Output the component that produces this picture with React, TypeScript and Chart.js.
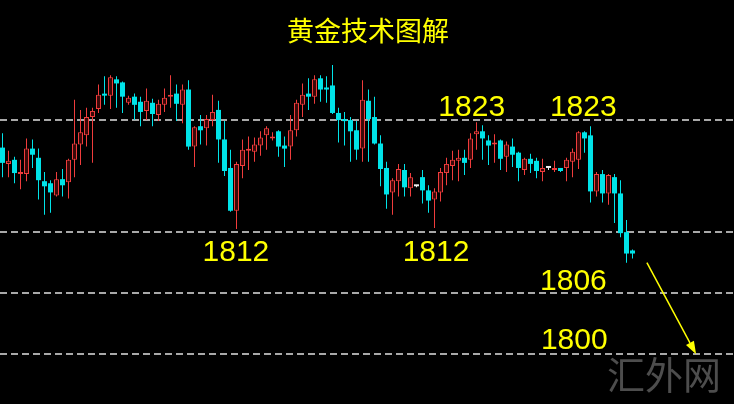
import React, { useEffect, useRef } from 'react';
import { Chart, registerables } from 'chart.js';

Chart.register(...registerables);

// ---------- data ----------
const titleText = '黄金技术图解';
const watermarkText = '汇外网';

const opens = [
  1820.3, 1818.7, 1819.1, 1817.7, 1817.7, 1820.2, 1819.3, 1817.0, 1816.8, 1815.6,
  1817.2, 1816.9, 1819.1, 1820.6, 1821.5, 1823.3, 1824.1, 1825.5, 1825.4, 1827.0,
  1826.7, 1824.7, 1825.3, 1824.8, 1823.9, 1824.7, 1823.5, 1824.5, 1825.3, 1825.6,
  1824.5, 1826.0, 1820.4, 1822.4, 1822.2, 1823.0, 1824.0, 1821.1, 1818.3, 1814.1,
  1818.5, 1820.0, 1819.9, 1820.5, 1821.5, 1821.2, 1821.9, 1820.5, 1820.4, 1822.0,
  1824.5, 1825.6, 1825.3, 1827.1, 1826.2, 1826.4, 1823.7, 1823.1, 1823.0, 1822.0,
  1820.2, 1824.9, 1823.3, 1820.7, 1818.3, 1815.9, 1817.0, 1818.1, 1816.3, 1816.5,
  1817.4, 1816.1, 1815.2, 1815.9, 1817.8, 1818.5, 1819.0, 1819.3, 1819.1, 1821.6,
  1821.9, 1821.0, 1820.6, 1821.0, 1819.4, 1820.4, 1819.8, 1818.1, 1819.2, 1819.0,
  1817.9, 1818.3, 1818.1, 1818.3, 1818.3, 1818.9, 1819.1, 1821.8, 1821.5, 1816.0,
  1817.7, 1815.8, 1817.4, 1815.8, 1812.0, 1810.2,
];
const highs = [
  1821.7, 1820.0, 1819.4, 1819.1, 1821.2, 1821.1, 1820.2, 1817.9, 1817.1, 1817.9,
  1818.2, 1819.2, 1825.0, 1824.0, 1824.2, 1824.2, 1826.5, 1827.3, 1827.4, 1827.3,
  1826.8, 1825.4, 1825.6, 1825.3, 1826.1, 1825.1, 1825.0, 1826.1, 1827.4, 1826.5,
  1826.5, 1826.9, 1822.4, 1823.5, 1823.5, 1825.5, 1824.9, 1822.9, 1820.1, 1818.9,
  1821.1, 1821.4, 1821.3, 1821.9, 1822.4, 1821.8, 1822.0, 1821.4, 1823.5, 1825.0,
  1826.6, 1827.1, 1827.4, 1827.4, 1827.3, 1828.4, 1824.2, 1823.8, 1823.3, 1822.9,
  1826.9, 1826.0, 1825.3, 1821.5, 1818.9, 1817.3, 1818.7, 1818.7, 1817.8, 1816.6,
  1818.1, 1816.6, 1816.3, 1818.3, 1819.3, 1820.0, 1820.1, 1820.1, 1821.7, 1822.8,
  1822.5, 1821.5, 1821.6, 1821.1, 1820.9, 1821.2, 1819.9, 1819.3, 1819.7, 1819.3,
  1819.2, 1818.4, 1819.0, 1818.3, 1819.3, 1820.2, 1821.9, 1821.9, 1822.4, 1817.9,
  1818.1, 1817.7, 1817.7, 1817.1, 1813.2, 1810.3,
];
const lows = [
  1817.4, 1817.4, 1816.8, 1816.2, 1817.0, 1818.3, 1815.2, 1813.7, 1813.9, 1815.5,
  1815.5, 1815.3, 1817.4, 1818.6, 1820.4, 1818.8, 1823.7, 1824.5, 1824.1, 1824.2,
  1823.7, 1824.5, 1823.0, 1822.4, 1823.0, 1822.4, 1822.9, 1823.8, 1824.2, 1822.9,
  1822.7, 1820.1, 1818.4, 1820.6, 1820.5, 1822.4, 1818.8, 1817.5, 1814.0, 1812.3,
  1817.3, 1818.1, 1818.9, 1819.5, 1820.1, 1821.0, 1819.4, 1818.4, 1819.1, 1821.4,
  1823.3, 1824.0, 1824.6, 1824.8, 1824.7, 1823.6, 1820.8, 1820.5, 1818.9, 1819.1,
  1818.9, 1818.9, 1820.6, 1816.5, 1814.3, 1813.7, 1815.5, 1815.5, 1815.5, 1816.4,
  1814.8, 1813.9, 1812.4, 1815.0, 1816.6, 1817.1, 1817.0, 1817.6, 1818.3, 1820.1,
  1819.1, 1818.6, 1818.8, 1818.1, 1817.9, 1818.4, 1817.0, 1817.6, 1817.8, 1817.3,
  1817.0, 1818.1, 1817.9, 1817.9, 1817.0, 1817.4, 1818.2, 1819.8, 1814.9, 1815.5,
  1814.9, 1814.7, 1812.9, 1811.5, 1809.0, 1809.4,
];
const closes = [
  1818.8, 1819.0, 1817.8, 1817.9, 1820.2, 1819.6, 1817.1, 1816.5, 1815.9, 1817.2,
  1816.6, 1819.1, 1820.7, 1821.8, 1823.3, 1823.9, 1825.5, 1825.4, 1827.2, 1826.6,
  1825.3, 1825.2, 1824.5, 1823.8, 1824.9, 1823.6, 1824.6, 1825.2, 1825.5, 1824.6,
  1826.0, 1820.4, 1822.3, 1822.0, 1823.1, 1823.8, 1821.1, 1818.0, 1814.1, 1818.7,
  1820.1, 1820.1, 1820.6, 1821.3, 1822.2, 1821.4, 1820.4, 1820.2, 1822.0, 1824.7,
  1825.5, 1825.3, 1827.0, 1826.0, 1826.0, 1823.7, 1823.0, 1822.9, 1821.9, 1820.1,
  1825.0, 1823.1, 1820.7, 1818.2, 1815.7, 1817.1, 1818.2, 1816.4, 1817.4, 1816.5,
  1816.1, 1815.1, 1816.0, 1817.9, 1818.7, 1819.1, 1819.3, 1818.8, 1821.2, 1821.9,
  1821.2, 1820.5, 1820.8, 1819.2, 1820.6, 1819.6, 1818.3, 1819.2, 1818.7, 1818.0,
  1818.3, 1818.3, 1818.3, 1818.0, 1819.1, 1819.9, 1821.8, 1821.2, 1816.0, 1817.7,
  1815.8, 1817.6, 1815.8, 1811.9, 1809.9, 1809.9,
];

// support / resistance levels
const levelValues = [1823, 1812, 1806, 1800];
const levelTexts = ['1823', '1823', '1812', '1812', '1806', '1800'];
const levelTextValues = [1823, 1823, 1812, 1812, 1806, 1800];
const levelTextBars = [78.2, 96.8, 38.9, 72.25, 95.15, 95.3];

// arrow (from / to in data space: bar index, price)
const arrowBars = [107.4, 115.6];
const arrowValues = [1809.0, 1800.0];

// ---------- styles ----------
const UP = '#f03c3c';
const UP_FILL = '#3a0808';
const DOWN = '#00e3e8';
const DOJI = '#f0f0f0';
const YELLOW = '#ffff00';
const W = 734;
const H = 404;
const X_MIN = -2.5 / 6;
const X_MAX = X_MIN + W / 6;
const Y_MAX = 1834.79;
const Y_MIN = Y_MAX - H / 10.186;
// pixel offsets of level labels relative to their lines (negative = above)
const labelOffsets = [-4, -4, 29, 29, -3.7, -5];

const colorOf = (i: number) =>
  closes[i] > opens[i] ? UP : closes[i] < opens[i] ? DOWN : DOJI;

const bgPlugin = {
  id: 'bg',
  beforeDraw(chart: any) {
    const { ctx } = chart;
    ctx.save();
    ctx.fillStyle = '#000';
    ctx.fillRect(0, 0, chart.width, chart.height);
    ctx.restore();
  },
};

const levelPlugin = {
  id: 'levels',
  beforeDatasetsDraw(chart: any) {
    const { ctx, chartArea, scales } = chart;
    ctx.save();
    ctx.strokeStyle = '#a8a8a8';
    ctx.lineWidth = 2;
    ctx.setLineDash([7, 4]);
    levelValues.forEach((v) => {
      const y = Math.round(scales.y.getPixelForValue(v));
      ctx.beginPath();
      ctx.moveTo(chartArea.left, y);
      ctx.lineTo(chartArea.right, y);
      ctx.stroke();
    });
    ctx.restore();
  },
};

const annotationPlugin = {
  id: 'annotations',
  afterDatasetsDraw(chart: any) {
    const { ctx, scales } = chart;
    ctx.save();
    // title
    ctx.fillStyle = YELLOW;
    ctx.font = '27px "Noto Sans CJK SC"';
    ctx.textAlign = 'center';
    ctx.textBaseline = 'middle';
    ctx.fillText(titleText, chart.width / 2 + 1, 31);

    // level labels
    ctx.font = '30px "Liberation Sans"';
    ctx.textBaseline = 'alphabetic';
    levelTexts.forEach((t, k) => {
      const x = scales.x.getPixelForValue(levelTextBars[k]);
      const y = scales.y.getPixelForValue(levelTextValues[k]) + labelOffsets[k];
      ctx.fillText(t, x, y);
    });

    // arrow
    const x1 = scales.x.getPixelForValue(arrowBars[0]);
    const y1 = scales.y.getPixelForValue(arrowValues[0]);
    const x2 = scales.x.getPixelForValue(arrowBars[1]);
    const y2 = scales.y.getPixelForValue(arrowValues[1]);
    const ang = Math.atan2(y2 - y1, x2 - x1);
    const headLen = 13;
    const headHalf = 4.5;
    const bx = x2 - headLen * Math.cos(ang);
    const by = y2 - headLen * Math.sin(ang);
    ctx.strokeStyle = YELLOW;
    ctx.lineWidth = 1.5;
    ctx.beginPath();
    ctx.moveTo(x1, y1);
    ctx.lineTo(bx, by);
    ctx.stroke();
    ctx.beginPath();
    ctx.moveTo(x2, y2);
    ctx.lineTo(bx + headHalf * Math.sin(ang), by - headHalf * Math.cos(ang));
    ctx.lineTo(bx - headHalf * Math.sin(ang), by + headHalf * Math.cos(ang));
    ctx.closePath();
    ctx.fill();

    // watermark
    ctx.fillStyle = '#4d4d4d';
    ctx.font = '38px "Noto Sans CJK SC"';
    ctx.textAlign = 'center';
    ctx.textBaseline = 'middle';
    ctx.fillText(watermarkText, 664, 375);
    ctx.restore();
  },
};

export default function App() {
  const ref = useRef<HTMLCanvasElement>(null);

  useEffect(() => {
    document.body.style.margin = '0';
    document.body.style.background = '#000';
    const idx = opens.map((_, i) => i);
    const pick = (c: any, fallback: string) =>
      c && c.dataIndex != null ? colorOf(c.dataIndex) : fallback;

    const chart = new Chart(ref.current as HTMLCanvasElement, {
      type: 'bar',
      data: {
        datasets: [
          {
            label: 'body',
            data: idx.map((i) => ({ x: i, y: [opens[i], closes[i]] })) as any,
            backgroundColor: (c: any) => {
              const col = pick(c, DOWN);
              return col === UP ? UP_FILL : col;
            },
            borderColor: (c: any) => pick(c, DOWN),
            borderWidth: (c: any) => (pick(c, DOWN) === UP ? 1 : 0),
            borderSkipped: false,
            barThickness: 5,
            minBarLength: 2,
            grouped: false,
            inflateAmount: 0,
            order: 1,
          } as any,
          {
            label: 'wick',
            data: idx.map((i) => ({ x: i, y: [lows[i], highs[i]] })) as any,
            backgroundColor: (c: any) => pick(c, DOWN),
            borderWidth: 0,
            barThickness: 1,
            grouped: false,
            inflateAmount: 0,
            order: 2,
          } as any,
        ],
      },
      options: {
        responsive: false,
        animation: false,
        devicePixelRatio: 1,
        events: [],
        layout: { padding: 0 },
        plugins: {
          legend: { display: false },
          tooltip: { enabled: false },
          title: { display: false },
        },
        scales: {
          x: {
            type: 'linear',
            min: X_MIN,
            max: X_MAX,
            offset: false,
            display: false,
            grid: { display: false },
          },
          y: {
            type: 'linear',
            min: Y_MIN,
            max: Y_MAX,
            display: false,
            grid: { display: false },
          },
        },
      } as any,
      plugins: [bgPlugin, levelPlugin, annotationPlugin],
    });
    return () => chart.destroy();
  }, []);

  return (
    <div style={{ width: W, height: H, background: '#000' }}>
      <canvas ref={ref} width={W} height={H} style={{ display: 'block' }} />
    </div>
  );
}
